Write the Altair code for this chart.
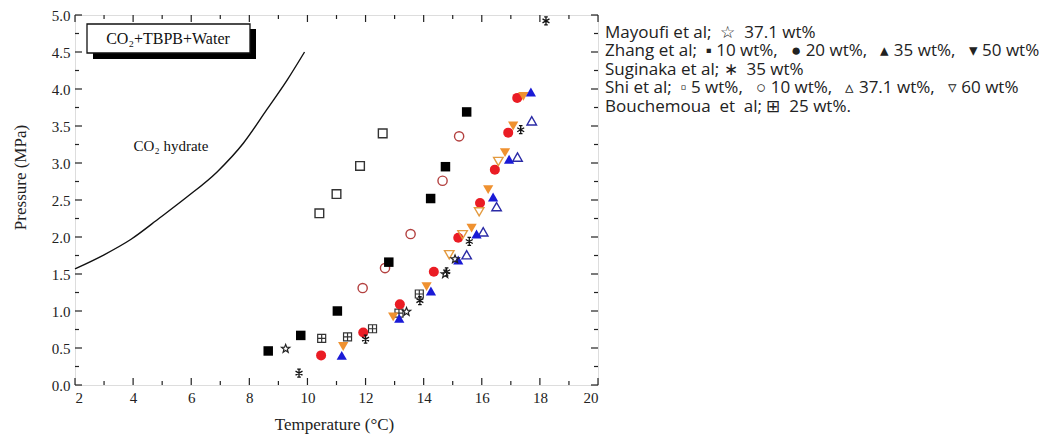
import altair as alt
import pandas as pd

# ---------------- data ----------------
curve_T = [2.0, 3.0, 3.93, 4.92, 5.85, 6.89, 7.8, 8.6, 9.3, 9.9]
curve_P = [1.57, 1.76, 1.97, 2.26, 2.54, 2.88, 3.27, 3.72, 4.12, 4.5]

mayoufi_T = [9.25, 13.41, 14.74, 15.08]
mayoufi_P = [0.49, 0.99, 1.50, 1.70]

zhang10_T = [8.65, 9.77, 11.03, 12.8, 14.24, 14.75, 15.48]
zhang10_P = [0.46, 0.67, 1.00, 1.66, 2.52, 2.95, 3.69]

zhang20_T = [10.47, 11.92, 13.18, 14.35, 15.19, 15.94, 16.45, 16.91, 17.22]
zhang20_P = [0.40, 0.71, 1.09, 1.53, 1.99, 2.46, 2.91, 3.41, 3.88]

zhang35_T = [11.18, 13.16, 14.25, 15.19, 15.82, 16.39, 16.94, 17.69]
zhang35_P = [0.40, 0.90, 1.27, 1.69, 2.04, 2.54, 3.05, 3.96]

zhang50_T = [11.23, 12.95, 14.1, 15.65, 16.22, 16.8, 17.08, 17.43]
zhang50_P = [0.52, 0.92, 1.33, 2.12, 2.64, 3.14, 3.50, 3.90]

sugi_T = [9.71, 12.0, 13.87, 14.79, 15.57, 17.34, 18.21]
sugi_P = [0.16, 0.62, 1.14, 1.53, 1.94, 3.45, 4.92]

shi5_T = [10.41, 11.0, 11.81, 12.59]
shi5_P = [2.32, 2.58, 2.96, 3.40]

shi10_T = [11.9, 12.67, 13.55, 14.65, 15.22]
shi10_P = [1.31, 1.58, 2.04, 2.76, 3.36]

shi37_T = [15.48, 16.05, 16.51, 17.23, 17.72]
shi37_P = [1.76, 2.07, 2.41, 3.08, 3.57]

shi60_T = [14.88, 15.34, 15.91, 16.57]
shi60_P = [1.76, 2.03, 2.34, 3.02]

bouch_T = [10.49, 11.38, 12.24, 13.15, 13.85]
bouch_P = [0.63, 0.65, 0.76, 0.97, 1.23]

x_ticks_major = [2, 4, 6, 8, 10, 12, 14, 16, 18, 20]
x_ticks_minor = [3, 5, 7, 9, 11, 13, 15, 17, 19]
y_ticks_major = [0.0, 0.5, 1.0, 1.5, 2.0, 2.5, 3.0, 3.5, 4.0, 4.5, 5.0]
y_ticks_minor = [0.25, 0.75, 1.25, 1.75, 2.25, 2.75, 3.25, 3.75, 4.25, 4.75]

NB = "\u00a0"
S2 = NB * 2
S3 = NB * 3
legend_lines = [
    f"Mayoufi et al;{S2}☆{S2}37.1 wt%",
    f"Zhang et al;{S2}▪{NB}10 wt%,{S3}●{NB}20 wt%,{S3}▴{NB}35 wt%,{S3}▾{NB}50 wt%",
    f"Suginaka et al;{NB}∗{S2}35 wt%",
    f"Shi et al;{S2}▫{NB}5 wt%,{S3}○{NB}10 wt%,{S3}▵{NB}37.1 wt%,{S3}▿{NB}60 wt%",
    f"Bouchemoua{S2}et{S2}al;{NB}⊞{S2}25 wt%.",
]
box_label = "CO₂+TBPB+Water"
region_label = "CO₂ hydrate"

# ---------------- layout ----------------
W, H = 523, 370
SERIF = "Liberation Serif"

xs = alt.Scale(domain=[2, 20], nice=False, zero=False)
ys = alt.Scale(domain=[0, 5], nice=False, zero=False)

X_AXIS = alt.Axis(values=x_ticks_major, format="d", ticks=False, domain=False, grid=False,
                  labelFont=SERIF, labelFontSize=15, labelColor="#222", labelPadding=5,
                  title="Temperature (°C)", titleFont=SERIF, titleFontSize=17,
                  titleFontWeight="normal", titleColor="#222", titleX=259, titleY=31)
Y_AXIS = alt.Axis(values=y_ticks_major, format=".1f", ticks=False, domain=False, grid=False,
                  labelFont=SERIF, labelFontSize=15, labelColor="#222", labelPadding=5,
                  title="Pressure (MPa)", titleFont=SERIF, titleFontSize=17,
                  titleFontWeight="normal", titleColor="#222", titleX=-46, titleY=162)


def XE():
    return alt.X("T:Q", scale=xs, axis=X_AXIS, title="Temperature (°C)")


def YE():
    return alt.Y("P:Q", scale=ys, axis=Y_AXIS, title="Pressure (MPa)")


STAR = "M0,-1L0.247,-0.34L0.951,-0.309L0.399,0.13L0.588,0.809L0,0.42L-0.588,0.809L-0.399,0.13L-0.951,-0.309L-0.247,-0.34Z"
AST = "M0,-1L0,1M-0.87,-0.5L0.87,0.5M-0.87,0.5L0.87,-0.5M-0.45,-1L0.45,-1M-0.45,1L0.45,1"
BOXPLUS = "M-1,-1L1,-1L1,1L-1,1ZM0,-1L0,1M-1,0L1,0"


def df(T, P):
    return pd.DataFrame({"T": T, "P": P})


def pts(T, P, shape, color, filled, size, sw=1.4):
    if filled:
        m = alt.Chart(df(T, P)).mark_point(shape=shape, filled=True, color=color, size=size, opacity=1)
    else:
        m = alt.Chart(df(T, P)).mark_point(shape=shape, filled=False, color=color, size=size,
                                           strokeWidth=sw, opacity=1)
    return m.encode(x=XE(), y=YE())


base = alt.Chart(df(curve_T, curve_P)).mark_line(color="#111", strokeWidth=1.4, interpolate="monotone").encode(
    x=XE(), y=YE())


def xticks(vals, length):
    d = pd.DataFrame({"T": vals})
    bot = alt.Chart(d).mark_rule(color="#222", strokeWidth=1.2).encode(
        x=XE(), y=alt.value(H), y2=alt.value(H - length))
    top = alt.Chart(d).mark_rule(color="#222", strokeWidth=1.2).encode(
        x=XE(), y=alt.value(0), y2=alt.value(length))
    return [bot, top]


def yticks(vals, length):
    d = pd.DataFrame({"P": vals})
    left = alt.Chart(d).mark_rule(color="#222", strokeWidth=1.2).encode(
        y=YE(), x=alt.value(0), x2=alt.value(length))
    right = alt.Chart(d).mark_rule(color="#222", strokeWidth=1.2).encode(
        y=YE(), x=alt.value(W), x2=alt.value(W - length))
    return [left, right]


ticks = xticks(x_ticks_major, 7) + xticks(x_ticks_minor, 4) + yticks(y_ticks_major, 7) + yticks(y_ticks_minor, 4)

one = pd.DataFrame({"a": [0]})
shadow = alt.Chart(one).mark_rect(color="#000").encode(
    x=alt.value(18), x2=alt.value(181), y=alt.value(14), y2=alt.value(44))
box = alt.Chart(one).mark_rect(fill="white", stroke="#111", strokeWidth=1.3).encode(
    x=alt.value(12), x2=alt.value(175), y=alt.value(9), y2=alt.value(38))
box_text = alt.Chart(one).mark_text(font=SERIF, fontSize=16, color="#111", align="center", baseline="middle").encode(
    x=alt.value(93), y=alt.value(24), text=alt.value(box_label))
region_text = alt.Chart(one).mark_text(font=SERIF, fontSize=15, color="#111", align="center", baseline="middle").encode(
    x=alt.value(96), y=alt.value(131), text=alt.value(region_label))

legend_layers = []
for i, line in enumerate(legend_lines):
    legend_layers.append(
        alt.Chart(one).mark_text(font="Open Sans", fontSize=17, color="#222", align="left", baseline="middle").encode(
            x=alt.value(530), y=alt.value(18 + i * 18.4), text=alt.value(line)))

series = [
    pts(shi5_T, shi5_P, "square", "#333333", False, 75),
    pts(shi10_T, shi10_P, "circle", "#b3403f", False, 85),
    pts(bouch_T, bouch_P, BOXPLUS, "#333333", False, 64, 1.2),
    pts(zhang10_T, zhang10_P, "square", "#000000", True, 90),
    pts(zhang20_T, zhang20_P, "circle", "#ea1c24", True, 100),
    pts(shi60_T, shi60_P, "triangle-down", "#e39a3f", False, 90),
    pts(zhang50_T, zhang50_P, "triangle-down", "#ef9130", True, 105),
    pts(shi37_T, shi37_P, "triangle-up", "#2b2ba6", False, 90),
    pts(zhang35_T, zhang35_P, "triangle-up", "#1a1ad6", True, 105),
    pts(sugi_T, sugi_P, AST, "#111111", False, 64, 1.3),
    pts(mayoufi_T, mayoufi_P, STAR, "#222222", False, 75, 1.2),
]

chart = alt.layer(base, *ticks, shadow, box, box_text, region_text, *series, *legend_layers).properties(
    width=W, height=H,
    autosize=alt.AutoSizeParams(type="none"),
    padding={"left": 67, "top": 7, "right": 452, "bottom": 59},
).configure_view(stroke="#222", strokeWidth=1.5).configure(background="white")

chart.save("out.html", embed_options={"renderer": "svg", "actions": False})
